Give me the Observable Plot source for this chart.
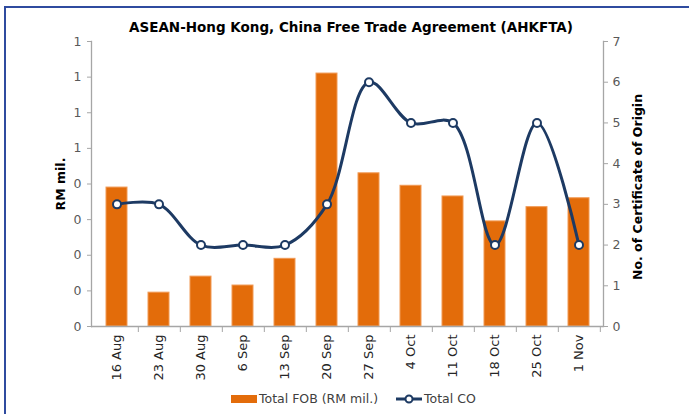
<!DOCTYPE html>
<html>
<head>
<meta charset="utf-8">
<script src="https://cdn.jsdelivr.net/npm/d3@7"></script>
<script src="https://cdn.jsdelivr.net/npm/@observablehq/plot@0.6"></script>
<style>
  body { margin: 0; background: #fff; font-family: "DejaVu Sans", sans-serif; }
  #wrap { position: relative; width: 689px; height: 414px; overflow: hidden; }
  #frame { position: absolute; left: 4px; top: 6px; width: 900px; height: 600px;
           border-left: 2.5px solid #2f4b9f; border-top: 2.5px solid #2f4b9f; }
  #title { position: absolute; top: 19px; left: 0; width: 702px; text-align: center;
           font-weight: bold; font-size: 13.5px; color: #000; }
  #chart { position: absolute; top: 35px; left: 0; }
  #legend { position: absolute; top: 391px; left: 231px; display: flex; align-items: center;
            font-size: 12.5px; color: #404040; }
  .sw { display: inline-block; }
</style>
</head>
<body>
<div id="wrap">
  <div id="frame"></div>
  <div id="title">ASEAN-Hong Kong, China Free Trade Agreement (AHKFTA)</div>
  <div id="chart"></div>
  <div id="legend"></div>
</div>
<script>
const categories = ["16 Aug","23 Aug","30 Aug","6 Sep","13 Sep","20 Sep","27 Sep","4 Oct","11 Oct","18 Oct","25 Oct","1 Nov"];
const totalFOB = [0.78, 0.19, 0.28, 0.23, 0.38, 1.42, 0.86, 0.79, 0.73, 0.59, 0.67, 0.72];
const totalCO = [3, 3, 2, 2, 2, 3, 6, 5, 5, 2, 5, 2];
const leftTicks = [0, 0.2, 0.4, 0.6, 0.8, 1.0, 1.2, 1.4, 1.6];
const leftTickLabels = ["0","0","0","0","0","1","1","1","1"];
const rightTicks = [0, 1, 2, 3, 4, 5, 6, 7];

const leftMax = 1.6, rightMax = 7;
const k = leftMax / rightMax;
const data = categories.map((c, i) => ({cat: c, fob: totalFOB[i], co: totalCO[i]}));

const W = 689, mL = 91, mR = 86;
const step = (W - mL - mR) / categories.length;
const axisColor = "#a6a6a6", tickText = "#595959";
const navy = "#1d3a63", orange = "#e36c0a";

const chart = Plot.plot({
  width: W, height: 350,
  marginTop: 6, marginLeft: mL, marginRight: mR, marginBottom: 59,
  style: {fontFamily: "DejaVu Sans, sans-serif", fontSize: "12.5px", background: "transparent"},
  x: {type: "band", domain: categories, paddingInner: 0.5, paddingOuter: 0.25},
  y: {domain: [0, leftMax]},
  marks: [
    Plot.barY(data, {x: "cat", y: "fob", fill: orange, stroke: "#f19a55", strokeWidth: 1}),
    Plot.ruleY([0], {stroke: axisColor, strokeWidth: 1.3}),
    Plot.frame({anchor: "left", stroke: axisColor, strokeWidth: 1.3}),
    Plot.frame({anchor: "right", stroke: axisColor, strokeWidth: 1.3}),
    Plot.axisY({ticks: leftTicks, tickSize: 4, tickPadding: 6, stroke: axisColor, fill: tickText,
      tickFormat: d => leftTickLabels[leftTicks.indexOf(d)], label: null}),
    Plot.axisY({anchor: "right", ticks: rightTicks.map(t => t * k), tickSize: 4, tickPadding: 5,
      stroke: axisColor, fill: tickText, tickFormat: d => String(Math.round(d / k)), label: null}),
    Plot.axisX({ticks: categories, tickSize: 6, text: null, dx: step / 2, stroke: axisColor, label: null}),
    Plot.axisX({ticks: categories, tickSize: 0, tickPadding: 8, tickRotate: -90, fill: "#262626", label: null, fontSize: 13}),
    Plot.text(["RM mil."], {frameAnchor: "left", dx: -31, rotate: -90, textAnchor: "middle", fontWeight: "bold", fontSize: 12.5, fill: "#000"}),
    Plot.text(["No. of Certificate of Origin"], {frameAnchor: "right", dx: 34, dy: 3, rotate: -90, textAnchor: "middle", fontWeight: "bold", fontSize: 12.5, fill: "#000"}),
    Plot.line(data, {x: "cat", y: d => d.co * k, curve: "catmull-rom", stroke: navy, strokeWidth: 3}),
    Plot.dot(data, {x: "cat", y: d => d.co * k, r: 4, fill: "#fff", stroke: navy, strokeWidth: 2})
  ]
});
document.getElementById("chart").appendChild(chart);

const legend = document.getElementById("legend");
legend.innerHTML =
  `<svg class="sw" width="26" height="10"><rect x="0" y="1" width="26" height="8" fill="${orange}"/></svg>` +
  `<span style="margin-left:2px">Total FOB (RM mil.)</span>` +
  `<svg class="sw" width="28" height="12" style="margin-left:17px"><line x1="1" x2="27" y1="6" y2="6" stroke="${navy}" stroke-width="3"/><circle cx="14" cy="6" r="3.5" fill="#fff" stroke="${navy}" stroke-width="2"/></svg>` +
  `<span style="margin-left:1px">Total CO</span>`;
</script>
</body>
</html>
